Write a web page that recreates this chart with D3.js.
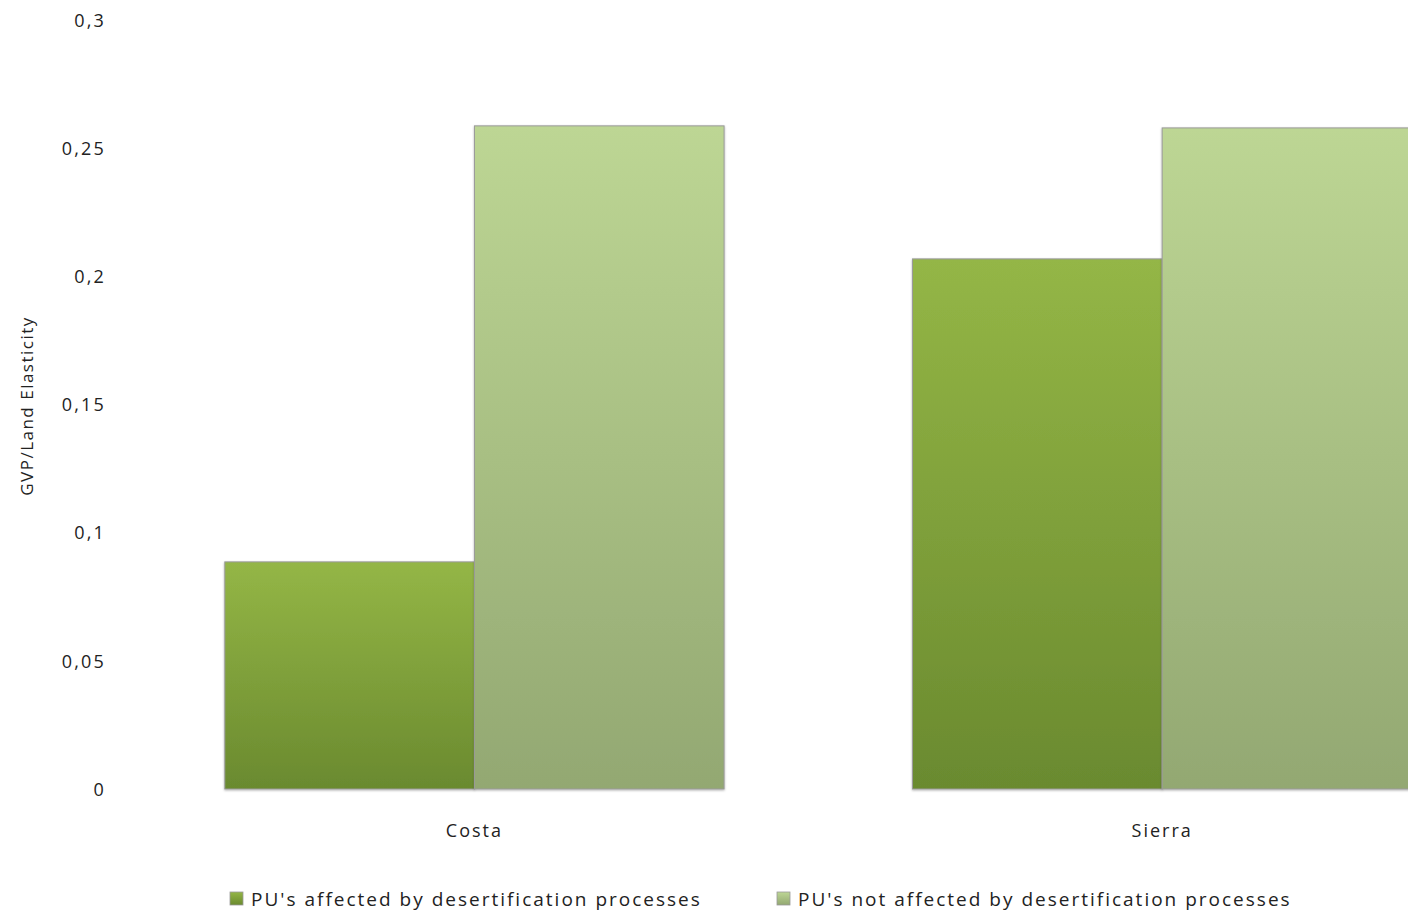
<!DOCTYPE html>
<html><head><meta charset="utf-8">
<script src="https://cdn.jsdelivr.net/npm/d3@7"></script>
<style>
body{margin:0;background:#fff;}
svg text{font-family:"Open Sans","Liberation Sans",sans-serif;fill:#222;}
</style></head>
<body><svg id="c" width="1408" height="910"></svg>
<script>
const categories = ["Costa", "Sierra"];
const seriesNames = ["PU's affected by desertification processes", "PU's not affected by desertification processes"];
const affected = [0.0886, 0.2068];
const notAffected = [0.2587, 0.2579];
const yTicks = [0, 0.05, 0.1, 0.15, 0.2, 0.25, 0.3];
const yTickLabels = ["0", "0,05", "0,1", "0,15", "0,2", "0,25", "0,3"];

const svg = d3.select("#c");
const defs = svg.append("defs");
const grads = [["g0", "#94b646", "#6a8a2f"], ["g1", "#bdd694", "#93a872"]];
grads.forEach(([id, a, b]) => {
  const g = defs.append("linearGradient").attr("id", id).attr("x1", 0).attr("y1", 0).attr("x2", 0).attr("y2", 1);
  g.append("stop").attr("offset", "0%").attr("stop-color", a);
  g.append("stop").attr("offset", "100%").attr("stop-color", b);
});
const sh = defs.append("filter").attr("id", "sh").attr("x", "-5%").attr("y", "-5%").attr("width", "110%").attr("height", "110%");
sh.append("feDropShadow").attr("dx", 0).attr("dy", 1).attr("stdDeviation", 1.2).attr("flood-color", "#000").attr("flood-opacity", 0.3);

const y = d3.scaleLinear().domain([0, 0.3]).range([789, 20]);
const x = d3.scaleBand().domain(categories).range([130.6, 1506]).paddingInner(0.274).paddingOuter(0.137);
const xs = d3.scaleBand().domain([0, 1]).range([0, x.bandwidth()]);

const data = categories.map((c, i) => ({c, v: [affected[i], notAffected[i]]}));
const grp = svg.append("g");
data.forEach(d => {
  d.v.forEach((v, s) => {
    grp.append("rect")
      .attr("x", x(d.c) + xs(s))
      .attr("y", y(v))
      .attr("width", xs.bandwidth())
      .attr("height", y(0) - y(v))
      .attr("fill", `url(#g${s})`)
      .attr("stroke", "#9a9a9a").attr("stroke-width", 1)
      .attr("filter", "url(#sh)");
  });
});

const yAxis = d3.axisLeft(y).tickValues(yTicks).tickFormat((d, i) => yTickLabels[i]).tickSize(0).tickPadding(0);
const ya = svg.append("g").attr("transform", "translate(106,0)").call(yAxis);
ya.select(".domain").remove();
ya.selectAll("text").attr("font-size", 18).attr("dy", "0.35em").attr("letter-spacing", "2.2px")
  .style("font-family", "\"Open Sans\",sans-serif").attr("fill", "#222");

const xAxis = d3.axisBottom(x).tickSize(0).tickPadding(0);
const xa = svg.append("g").attr("transform", "translate(0,826)").call(xAxis);
xa.select(".domain").remove();
xa.selectAll("text").attr("font-size", 18).attr("dy", "0.6em").attr("letter-spacing", "2px")
  .style("font-family", "\"Open Sans\",sans-serif").attr("fill", "#222");

svg.append("text").attr("transform", "translate(33,406) rotate(-90)")
  .attr("text-anchor", "middle").attr("font-size", 17).attr("letter-spacing", "1.5px").text("GVP/Land Elasticity");

const legX = [230, 777];
seriesNames.forEach((n, s) => {
  const g = svg.append("g").attr("transform", `translate(${legX[s]},0)`);
  g.append("rect").attr("x", 0).attr("y", 892).attr("width", 13).attr("height", 13)
    .attr("fill", `url(#g${s})`).attr("stroke", "#9a9a9a").attr("stroke-width", 0.8);
  g.append("text").attr("x", 21).attr("y", 906).attr("font-size", 19).attr("letter-spacing", "2px").text(n);
});
</script></body></html>
